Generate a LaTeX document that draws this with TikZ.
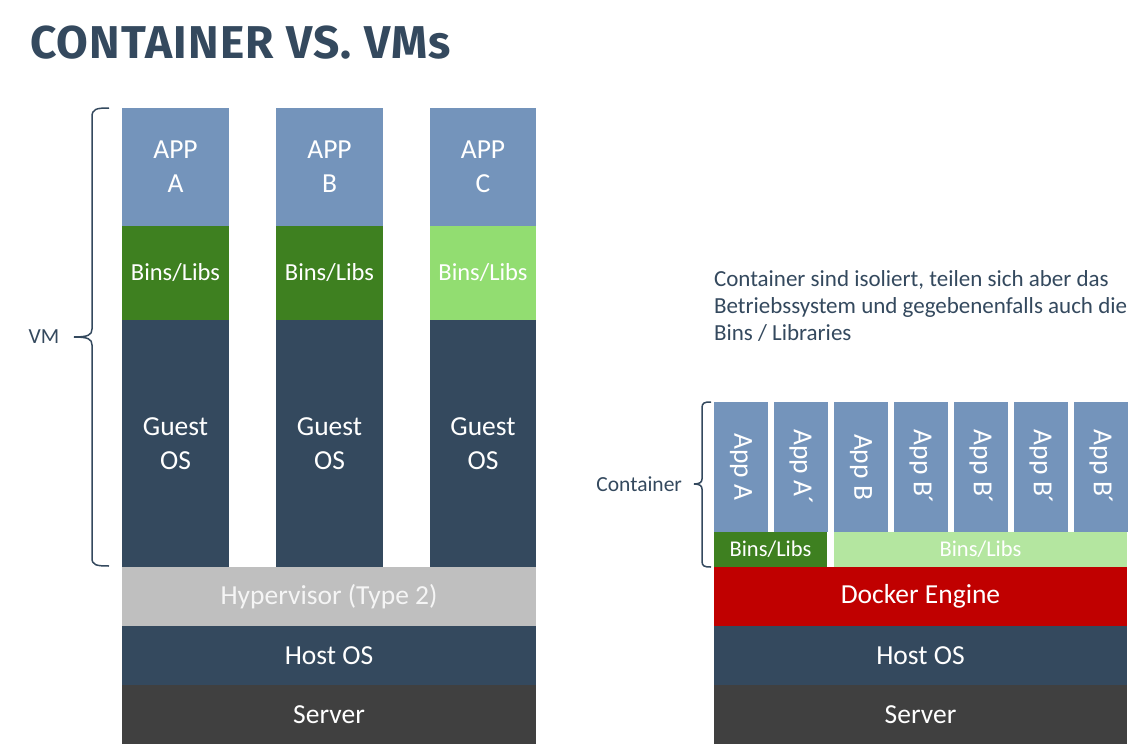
\documentclass[tikz,border=0pt]{standalone}
\usepackage{fontspec}
\setmainfont{Carlito}
\newfontfamily\titlefont{Fira Sans}[LetterSpace=2.8]
\definecolor{appblue}{HTML}{7494BB}
\definecolor{navy}{HTML}{34495E}
\definecolor{dkgreen}{HTML}{3E8020}
\definecolor{ltgreen}{HTML}{92DD71}
\definecolor{pagreen}{HTML}{B4E6A0}
\definecolor{hypgray}{HTML}{BFBFBF}
\definecolor{srvgray}{HTML}{404040}
\definecolor{dockred}{HTML}{C00000}
\begin{document}
\begin{tikzpicture}[x=1pt,y=-1pt,
  every node/.style={inner sep=0pt,outer sep=0pt},
  blk/.style={anchor=north west,align=center,text=white,font=\fontsize{27.5}{34}\selectfont},
  binsl/.style={blk,font=\fontsize{24.5}{30}\selectfont},
  binsr/.style={blk,font=\fontsize{22.5}{26}\selectfont},
  apptxt/.style={rotate=-90,text=white,font=\fontsize{27.5}{30}\selectfont},
  lbl/.style={text=navy,font=\fontsize{21.5}{27}\selectfont},
  bracestyle/.style={draw=navy,line width=1.5pt}]
\useasboundingbox (0,0) rectangle (1141,744);
\fill[white] (0,0) rectangle (1141,744);
% title
\node[anchor=base west,text=navy,font=\titlefont\bfseries\fontsize{46}{50}\selectfont] (title) at (30,58) {CONTAINER VS. VMs};
% left stack
\node[blk,fill=appblue,minimum width=107pt,minimum height=118pt] (appA) at (122,108) {APP\\A};
\node[blk,fill=appblue,minimum width=107pt,minimum height=118pt] (appB) at (276,108) {APP\\B};
\node[blk,fill=appblue,minimum width=106pt,minimum height=118pt] (appC) at (430,108) {APP\\C};
\node[binsl,fill=dkgreen,minimum width=107pt,minimum height=94pt] (binsA) at (122,226) {Bins/Libs};
\node[binsl,fill=dkgreen,minimum width=107pt,minimum height=94pt] (binsB) at (276,226) {Bins/Libs};
\node[binsl,fill=ltgreen,minimum width=106pt,minimum height=94pt] (binsC) at (430,226) {Bins/Libs};
\node[blk,fill=navy,minimum width=107pt,minimum height=247pt] (guestA) at (122,320) {Guest\\OS};
\node[blk,fill=navy,minimum width=107pt,minimum height=247pt] (guestB) at (276,320) {Guest\\OS};
\node[blk,fill=navy,minimum width=106pt,minimum height=247pt] (guestC) at (430,320) {Guest\\OS};
\node[blk,fill=hypgray,text=white!96!black,minimum width=414pt,minimum height=59pt] (hyp) at (122,567) {Hypervisor (Type 2)};
\node[blk,fill=navy,minimum width=414pt,minimum height=59pt] (hostL) at (122,626) {Host OS};
\node[blk,fill=srvgray,minimum width=414pt,minimum height=59pt] (srvL) at (122,685) {Server};
% VM brace
\draw[bracestyle] (109,108) .. controls (96,108) and (92,109) .. (92,117) -- (92,329) .. controls (92,335) and (88,337) .. (74,337)
  .. controls (88,337) and (92,339) .. (92,345) -- (92,558) .. controls (92,565) and (96,566) .. (109,566);
\node[lbl,anchor=center] (vm) at (44,337) {VM};
% right stack
\foreach \i/\t in {0/App A,1/App A´,2/App B,3/App B´,4/App B´,5/App B´,6/App B´}{
  \node[blk,fill=appblue,minimum width=54pt,minimum height=130pt] (c\i) at ({714+60*\i},402) {};
  \node[apptxt] (ct\i) at (c\i.center) {\t};
}
\node[binsr,fill=dkgreen,minimum width=113pt,minimum height=35pt] (binsR1) at (714,532) {Bins/Libs};
\node[binsr,fill=pagreen,minimum width=293pt,minimum height=35pt] (binsR2) at (834,532) {Bins/Libs};
\node[blk,fill=dockred,minimum width=413pt,minimum height=59pt] (docker) at (714,567) {Docker Engine};
\node[blk,fill=navy,minimum width=413pt,minimum height=59pt] (hostR) at (714,626) {Host OS};
\node[blk,fill=srvgray,minimum width=413pt,minimum height=59pt] (srvR) at (714,685) {Server};
% container brace
\draw[bracestyle] (711,402) .. controls (704,402) and (702,403) .. (702,408) -- (702,479) .. controls (702,482) and (700,484) .. (694,484)
  .. controls (700,484) and (702,486) .. (702,489) -- (702,561) .. controls (702,566) and (704,567) .. (711,567);
\node[lbl,anchor=east] (cont) at (682,484) {Container};
\node[lbl,anchor=north west,align=left,font=\fontsize{23}{27}\selectfont] (desc) at (714,271) {Container sind isoliert, teilen sich aber das\\Betriebssystem und gegebenenfalls auch die\\Bins / Libraries};
\end{tikzpicture}
\end{document}
